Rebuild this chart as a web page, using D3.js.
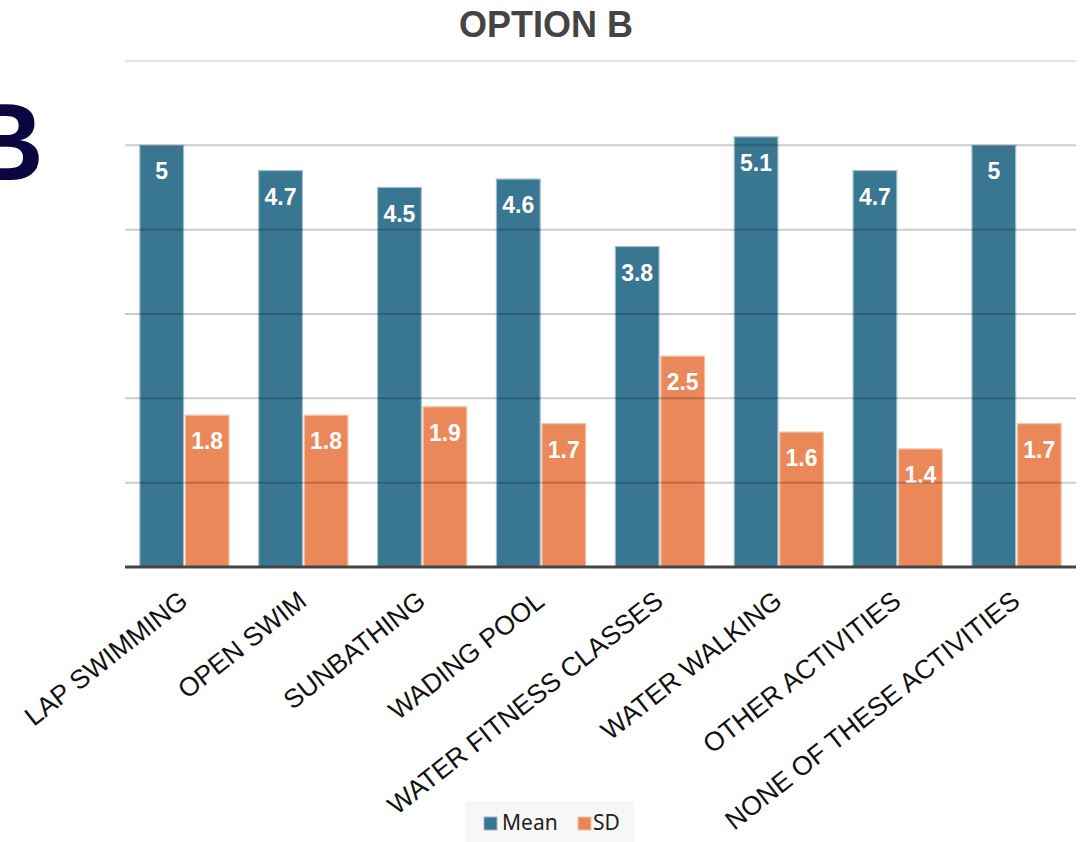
<!DOCTYPE html>
<html>
<head>
<meta charset="utf-8">
<script src="https://cdn.jsdelivr.net/npm/d3@7"></script>
<style>
  html, body { margin: 0; padding: 0; background: #fff; }
  svg { display: block; }
</style>
</head>
<body>
<svg id="chart" width="1081" height="842"></svg>
<script>
const categories = ["LAP SWIMMING", "OPEN SWIM", "SUNBATHING", "WADING POOL", "WATER FITNESS CLASSES", "WATER WALKING", "OTHER ACTIVITIES", "NONE OF THESE ACTIVITIES"];
const seriesNames = ["Mean", "SD"];
const meanValues = [5, 4.7, 4.5, 4.6, 3.8, 5.1, 4.7, 5];
const sdValues = [1.8, 1.8, 1.9, 1.7, 2.5, 1.6, 1.4, 1.7];
const gridTicks = [1, 2, 3, 4, 5];
const yMax = 6;
const colors = ["#1d6383", "#e87842"];

(function () {
const svg = d3.select("#chart");
const mLeft = 125, mRight = 1076, mTop = 61, mBottom = 567;

const x = d3.scaleBand().domain(categories).range([mLeft, mRight]).paddingInner(0.25).paddingOuter(0.125);
const xs = d3.scaleBand().domain(seriesNames).range([0, x.bandwidth()]).paddingInner(0.04);
const y = d3.scaleLinear().domain([0, yMax]).range([mBottom, mTop]);

// Title
svg.append("text").attr("x", 546).attr("y", 37).attr("text-anchor", "middle")
  .attr("font-family", "Liberation Sans, Arial, sans-serif").attr("font-weight", "bold")
  .attr("font-size", 36).attr("fill", "#444").text("OPTION B");

// Big B at left (partly cut off, as in the reference)
svg.append("text").attr("x", -35).attr("y", 180)
  .attr("font-family", "Liberation Sans, Arial, sans-serif").attr("font-weight", "bold")
  .attr("font-size", 109).attr("fill", "#0c0640").text("B");

// Top light line
svg.append("line").attr("x1", mLeft).attr("x2", mRight).attr("y1", y(yMax)).attr("y2", y(yMax))
  .attr("stroke", "#e4e4e4").attr("stroke-width", 2);

const data = categories.map((c, i) => ({ cat: c, vals: [meanValues[i], sdValues[i]] }));

const groups = svg.append("g").selectAll("g").data(data).join("g")
  .attr("transform", d => `translate(${x(d.cat)},0)`);

groups.selectAll("rect").data(d => d.vals.map((v, j) => ({ v, s: seriesNames[j], j })))
  .join("rect")
  .attr("x", d => xs(d.s))
  .attr("y", d => y(d.v))
  .attr("width", xs.bandwidth())
  .attr("height", d => mBottom - y(d.v))
  .attr("fill", d => colors[d.j])
  .attr("fill-opacity", 0.88)
  .attr("stroke", d => d.j === 0 ? "#9dbccb" : "#f5c2a6")
  .attr("stroke-width", 1.2);

// Gridlines drawn over bars
svg.append("g").selectAll("line").data(gridTicks).join("line")
  .attr("x1", mLeft).attr("x2", mRight)
  .attr("y1", d => y(d)).attr("y2", d => y(d))
  .attr("stroke", "#000").attr("stroke-opacity", 0.2).attr("stroke-width", 2);

// Value labels
groups.selectAll("text.val").data(d => d.vals.map((v, j) => ({ v, s: seriesNames[j], j })))
  .join("text").attr("class", "val")
  .attr("x", d => xs(d.s) + xs.bandwidth() / 2)
  .attr("y", d => y(d.v) + 34)
  .attr("text-anchor", "middle")
  .attr("font-family", "Liberation Sans, Arial, sans-serif").attr("font-weight", "bold")
  .attr("font-size", 23).attr("fill", "#fff")
  .text(d => d.v);

// Baseline
svg.append("line").attr("x1", mLeft).attr("x2", mRight).attr("y1", mBottom).attr("y2", mBottom)
  .attr("stroke", "#444").attr("stroke-width", 3);

// X labels
svg.append("g").selectAll("text").data(categories).join("text")
  .attr("transform", d => `translate(${x(d) + x.bandwidth() / 2 + 5},604) rotate(-38.3)`)
  .attr("text-anchor", "end")
  .attr("font-family", "Liberation Sans, Arial, sans-serif")
  .attr("font-size", 26.5).attr("fill", "#111")
  .text(d => d);

// Legend
const lg = svg.append("g");
lg.append("rect").attr("x", 465).attr("y", 801).attr("width", 169).attr("height", 41).attr("fill", "#f7f7f7");
const legendItems = [{ name: seriesNames[0], sx: 484, tx: 502 }, { name: seriesNames[1], sx: 578, tx: 593 }];
legendItems.forEach((it, j) => {
  lg.append("rect").attr("x", it.sx).attr("y", 817).attr("width", 13).attr("height", 13)
    .attr("fill", colors[j]).attr("fill-opacity", 0.88)
    .attr("stroke", j === 0 ? "#9dbccb" : "#f5c2a6").attr("stroke-width", 1);
  lg.append("text").attr("x", it.tx).attr("y", 830)
    .attr("font-family", "Noto Sans, Open Sans, sans-serif").attr("font-size", 21).attr("fill", "#222")
    .text(it.name);
});
})();
</script>
</body>
</html>
